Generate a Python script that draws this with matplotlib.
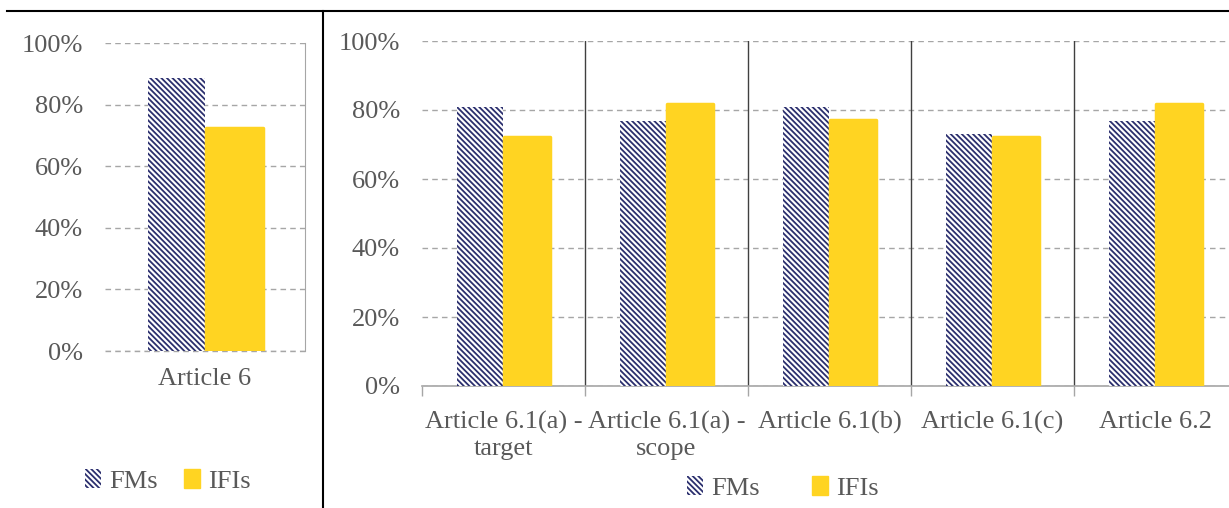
import matplotlib.pyplot as plt
import numpy as np
from matplotlib.patches import Patch
from matplotlib.lines import Line2D

plt.rcParams['font.family'] = ['Liberation Serif', 'DejaVu Serif']
plt.rcParams['hatch.linewidth'] = 1.3

# dane
left_categories = ['Article 6']
left_fms = [0.886]
left_ifis = [0.724]

right_categories = ['Article 6.1(a) -\ntarget', 'Article 6.1(a) -\nscope', 'Article 6.1(b)',
                    'Article 6.1(c)', 'Article 6.2']
right_fms = [0.809, 0.769, 0.809, 0.729, 0.769]
right_ifis = [0.722, 0.816, 0.770, 0.722, 0.816]

NAVY = '#2B2F6E'
YELLOW = '#FFD422'
GREY_TXT = '#595959'
GRID = '#A6A6A6'
FS = 19
HATCH = '\\' * 6

fig = plt.figure(figsize=(12.29, 5.08), dpi=100)

W, H = 1229, 508
def pos(x0, y0, x1, y1):
    return [x0 / W, (H - y1) / H, (x1 - x0) / W, (y1 - y0) / H]

bw = 0.285
off = 0.145


def draw_bars(ax, fms, ifis):
    x = np.arange(len(fms))
    ax.bar(x - off, fms, bw, color='white', edgecolor=NAVY, hatch=HATCH, linewidth=0, zorder=3)
    ax.bar(x + off, ifis, bw, color=YELLOW, edgecolor=YELLOW, linewidth=2.5, joinstyle='round', zorder=4)
    return x


def style_y(ax):
    ax.set_ylim(0, 1)
    ax.set_yticks(np.arange(0, 1.01, 0.2))
    ax.set_yticklabels([f'{int(round(v * 100))}%' for v in np.arange(0, 1.01, 0.2)])
    ax.grid(axis='y', linestyle=(0, (4, 3)), color=GRID, linewidth=1.0, zorder=0)
    ax.tick_params(axis='y', length=0, pad=16, labelsize=FS, labelcolor=GREY_TXT)
    ax.tick_params(axis='x', labelsize=FS, labelcolor=GREY_TXT)
    for s in ['top', 'left']:
        ax.spines[s].set_visible(False)


# lewy wykres
ax1 = fig.add_axes(pos(105, 43, 305, 351))
x = draw_bars(ax1, left_fms, left_ifis)
style_y(ax1)
ax1.set_xlim(-0.5, 0.5)
ax1.set_xticks(x)
ax1.set_xticklabels(left_categories)
ax1.tick_params(axis='x', length=0, pad=12)
ax1.spines['bottom'].set_visible(False)
ax1.spines['right'].set_color(GRID)
ax1.axhline(0, linestyle=(0, (4, 3)), color=GRID, linewidth=1.0, zorder=1, clip_on=False)

# prawy wykres
ax2 = fig.add_axes(pos(422, 41, 1237, 386))
x = draw_bars(ax2, right_fms, right_ifis)
style_y(ax2)
ax2.set_xlim(-0.5, len(right_categories) - 0.5)
ax2.set_xticks(x)
ax2.set_xticklabels(right_categories, linespacing=1.25)
ax2.tick_params(axis='x', which='major', length=0, pad=18)
ax2.set_xticks(np.arange(-0.5, len(right_categories)), minor=True)
ax2.tick_params(axis='x', which='minor', length=7, color=GRID, width=1)
ax2.spines['bottom'].set_color(GRID)
ax2.spines['bottom'].set_linewidth(1.2)
ax2.spines['right'].set_visible(False)
for xs in np.arange(0.5, len(right_categories) - 0.5):
    ax2.axvline(xs, color='#404040', linewidth=1.0, zorder=2)

# legendy
def handles():
    return [Patch(facecolor='white', edgecolor=NAVY, hatch=HATCH, linewidth=0, label='FMs'),
            Patch(facecolor=YELLOW, edgecolor=YELLOW, label='IFIs')]

leg_kw = dict(ncol=2, frameon=False, fontsize=FS, handlelength=0.6, handleheight=0.7,
              handletextpad=0.3, labelcolor=GREY_TXT)
fig.legend(handles=handles(), loc='center', bbox_to_anchor=(168 / W, 1 - 481 / H),
           columnspacing=1.0, **leg_kw)
fig.legend(handles=handles(), loc='center', bbox_to_anchor=(783 / W, 1 - 488 / H),
           columnspacing=2.0, **leg_kw)

# ramka tabeli
fig.add_artist(Line2D([7 / W, 1], [1 - 11 / H] * 2, color='black', linewidth=1.5))
fig.add_artist(Line2D([323 / W] * 2, [1 - 11 / H, 0], color='black', linewidth=1.5))

fig.savefig('out.png', dpi=100)
